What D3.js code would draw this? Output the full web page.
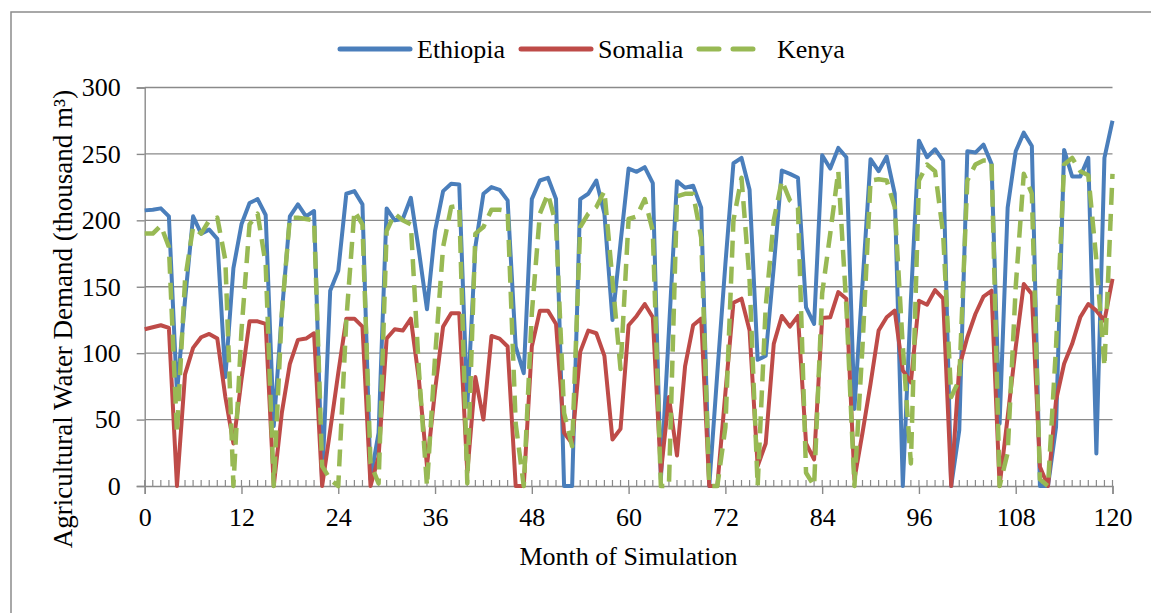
<!DOCTYPE html>
<html>
<head>
<meta charset="utf-8">
<script src="https://cdn.jsdelivr.net/npm/d3@7"></script>
<style>
  body { margin: 0; background: #fff; }
  text { font-family: "Liberation Serif", "Times New Roman", serif; fill: #000; }
</style>
</head>
<body>
<svg id="chart" width="1151" height="613"></svg>
<script>
// Monthly agricultural water demand (thousand m³), months 0–120
const ethiopia = [
  207.5, 208, 209, 203, 70, 140, 203, 190, 193, 186, 82, 164, 197, 213, 216, 204, 45, 130, 203, 212,
  203, 207, 3, 147, 162, 220, 222, 212, 5, 40, 209, 200, 201, 217, 177, 133, 192, 222, 227.5, 227,
  60, 180, 220, 225, 223, 215, 105, 85, 216, 230, 232, 216, 0, 0, 216, 220, 230, 205, 125, 183,
  239, 236.5, 240, 228, 5, 117, 229.5, 224.5, 226, 209.5, 0, 85, 167, 243, 247, 223, 95, 98, 165, 237.5,
  235, 232, 134.5, 122, 249, 239, 254.5, 247.5, 58, 152, 246, 237, 248, 220, 0, 140, 260, 247.5, 253.5, 245,
  0, 42, 252, 251, 257, 242.5, 47, 209.5, 252, 266, 256, 0, 0, 44.5, 253, 233, 233, 247, 24.5, 247,
  275
];
const somalia = [
  118, 119.5, 121, 119, 0, 84, 104, 112, 114.5, 111, 67, 32, 80, 124, 124, 122, 0, 55, 92, 110,
  111, 115, 0, 42, 85, 126, 126, 120, 0, 22, 111, 118, 117, 126, 80, 15, 72, 120, 130, 130,
  10, 82, 50, 113, 111, 105, 0, 0, 105, 132, 132, 122, 40, 32, 101, 117, 115, 98, 35, 43,
  121, 128, 137, 127, 10, 67, 23, 90, 121, 126, 0, 0, 70, 138, 141, 117, 15, 32, 107, 128,
  120, 128, 32, 20, 126.5, 127, 146, 141, 5, 40, 77, 117, 127, 132, 87, 78, 139.5, 136.5, 147.5, 141,
  0, 89.5, 112, 129.5, 142.5, 147, 0, 52, 104.5, 152, 144.5, 14.5, 0, 64.5, 92, 107, 127, 137, 132, 124.5,
  156
];
const kenya = [
  190, 190, 196, 180, 40, 155, 195, 190, 200, 202, 170, 0, 117, 197, 205, 167, 0, 130, 202, 202,
  201, 200, 15, 5, 0, 125, 207, 197, 17, 2, 192, 205, 200, 197, 87, 0, 97, 180, 210, 211,
  2, 190, 195, 208, 208, 207, 47, 0, 130, 205, 220, 197, 55, 30, 195, 205, 210, 222, 155, 88,
  201, 203, 216, 192, 0, 0, 218, 220, 220, 187, 0, 0, 44, 200, 232, 155, 0, 135, 200, 230,
  215, 209.5, 10, 0, 145, 190, 237, 135, 0, 105, 230, 231, 230, 210, 105, 17, 230, 242, 237, 190,
  67, 80, 230, 242, 245, 245, 0, 25, 150, 235, 220, 5, 0, 105, 242, 247, 237, 234, 170, 90,
  235
];

const seriesNames = ["Ethiopia", "Somalia", "Kenya"];
const seriesColors = ["#4A7EBB", "#BE4B48", "#98B954"];
const xTickValues = [0, 12, 24, 36, 48, 60, 72, 84, 96, 108, 120];
const yTickValues = [0, 50, 100, 150, 200, 250, 300];
const xTitle = "Month of Simulation";
const yTitle = "Agricultural Water Demand (thousand m³)";

const svg = d3.select("#chart");
const gridColor = "#8a8a8a";

// Outer chart border
svg.append("rect")
  .attr("x", 11).attr("y", 12)
  .attr("width", 1160).attr("height", 620)
  .attr("fill", "none").attr("stroke", "#8c8c8c").attr("stroke-width", 1.5);

const x = d3.scaleLinear().domain([0, 120]).range([144.7, 1112.5]);
const y = d3.scaleLinear().domain([0, 300]).range([486, 87.5]);

// Horizontal gridlines
svg.append("g").selectAll("line")
  .data(yTickValues.filter(v => v > 0))
  .join("line")
  .attr("x1", x(0)).attr("x2", x(120))
  .attr("y1", d => y(d)).attr("y2", d => y(d))
  .attr("stroke", gridColor).attr("stroke-width", 1.4);

// Y axis
const yAxis = svg.append("g")
  .attr("transform", `translate(${x(0)},0)`)
  .call(d3.axisLeft(y).tickValues(yTickValues).tickSize(8).tickPadding(16));
yAxis.select(".domain").attr("stroke", gridColor).attr("stroke-width", 1.4);
yAxis.selectAll(".tick line").attr("stroke", gridColor).attr("stroke-width", 1.4);
yAxis.selectAll(".tick text")
  .style("font-family", '"Liberation Serif", serif').style("font-size", "26px").attr("fill", "#000");

// X axis: major ticks every 12 months pointing down
const xAxis = svg.append("g")
  .attr("transform", `translate(0,${y(0)})`)
  .call(d3.axisBottom(x).tickValues(xTickValues).tickSize(8).tickPadding(14).tickFormat(d3.format("d")));
xAxis.select(".domain").attr("stroke", gridColor).attr("stroke-width", 1.4);
xAxis.selectAll(".tick line").attr("stroke", gridColor).attr("stroke-width", 1.4);
xAxis.selectAll(".tick text")
  .style("font-family", '"Liberation Serif", serif').style("font-size", "26px").attr("fill", "#000");

// Minor ticks every month pointing up into the plot
svg.append("g").selectAll("line")
  .data(x.ticks(120))
  .join("line")
  .attr("x1", d => x(d)).attr("x2", d => x(d))
  .attr("y1", y(0)).attr("y2", y(0) - 6)
  .attr("stroke", gridColor).attr("stroke-width", 1.2);

// Series lines
const line = d3.line().x((d, i) => x(i)).y(d => y(d));
const seriesData = [ethiopia, somalia, kenya];
seriesData.forEach((vals, k) => {
  const p = svg.append("path")
    .datum(vals)
    .attr("d", line)
    .attr("fill", "none")
    .attr("stroke", seriesColors[k])
    .attr("stroke-width", k === 2 ? 4.5 : 4)
    .attr("stroke-linejoin", "round");
  if (k === 2) p.attr("stroke-dasharray", "17,9");
});

// Axis titles
svg.append("text")
  .attr("x", 628.5).attr("y", 565)
  .attr("text-anchor", "middle")
  .style("font-size", "26px")
  .text(xTitle);

svg.append("text")
  .attr("transform", "translate(72,319) rotate(-90)")
  .attr("text-anchor", "middle")
  .style("font-size", "27px")
  .text(yTitle);

// Legend
const legendItems = [
  { x1: 340, x2: 410, tx: 417 },
  { x1: 521, x2: 591, tx: 598 },
  { x1: 699, x2: 757, tx: 777 }
];
const legend = svg.append("g");
legendItems.forEach((it, k) => {
  const l = legend.append("line")
    .attr("x1", it.x1).attr("x2", it.x2)
    .attr("y1", 49).attr("y2", 49)
    .attr("stroke", seriesColors[k])
    .attr("stroke-width", 5)
    .attr("stroke-linecap", "round");
  if (k === 2) l.attr("stroke-dasharray", "20,14");
  legend.append("text")
    .attr("x", it.tx).attr("y", 58)
    .style("font-size", "26px")
    .text(seriesNames[k]);
});
</script>
</body>
</html>
